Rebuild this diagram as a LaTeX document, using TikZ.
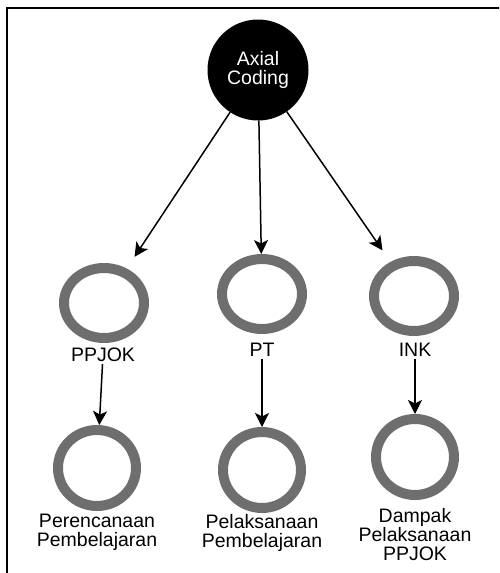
\documentclass[tikz,border=0pt]{standalone}
\usepackage{fontspec}
\setmainfont{Liberation Sans}
\usetikzlibrary{shapes.geometric,arrows.meta}
\definecolor{ringgray}{HTML}{6E6E6E}
\begin{document}
\begin{tikzpicture}[x=1pt,y=-1pt,
  ring/.style={ellipse,draw=ringgray,line width=10pt,outer sep=5pt,inner sep=0pt},
  toprow/.style={ring,minimum width=80pt,minimum height=70pt},
  botrow/.style={ring,minimum width=78pt,minimum height=76pt},
  lbl/.style={font=\fontsize{19.5}{19}\selectfont,align=center,inner sep=2pt},
  arr/.style={line width=1.5pt,-{Stealth[length=14pt,width=14pt,inset=3.5pt]}},
  hub/.style={circle,fill=black,minimum size=101pt,inner sep=0pt,outer sep=0pt,text=white}
]
\useasboundingbox (0,0) rectangle (499,573);
\begin{scope}
\clip (0,0) rectangle (499,573);
\draw[line width=2pt] (6.5,7.5) rectangle (560,640);
\end{scope}

\node[lbl,hub] (axial) at (258,70) {Axial\\Coding};

\node[toprow] (r1) at (104,303) {};
\node[toprow] (r2) at (262,294) {};
\node[toprow] (r3) at (414,296) {};

\node[lbl] (l1) at (103,355) {PPJOK};
\node[lbl] (l2) at (262,350) {PT};
\node[lbl] (l3) at (415,350) {INK};

\node[botrow] (b1) at (97,468) {};
\node[botrow] (b2) at (262,470) {};
\node[botrow] (b3) at (415,457) {};

\node[lbl] (bl1) at (97,532) {Perencanaan\\Pembelajaran};
\node[lbl] (bl2) at (262,533) {Pelaksanaan\\Pembelajaran};
\node[lbl] (bl3) at (415,535) {Dampak\\Pelaksanaan\\PPJOK};

\draw[arr,shorten >=14pt] (axial) -- (r1);
\draw[arr] (axial) -- (r2);
\draw[arr,shorten >=14pt] (axial) -- (r3);

\draw[arr] (l1) -- (b1);
\draw[arr] (l2) -- (b2);
\draw[arr] (l3) -- (b3);
\end{tikzpicture}
\end{document}
